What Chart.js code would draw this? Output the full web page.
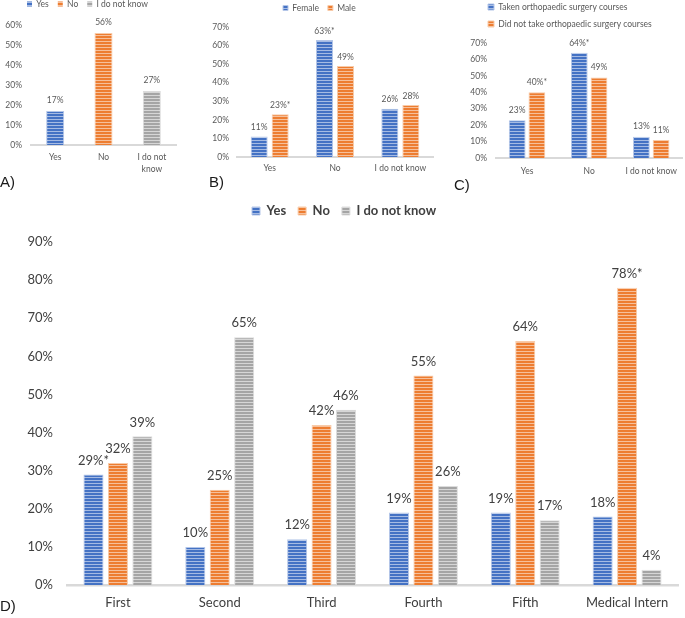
<!DOCTYPE html>
<html>
<head>
<meta charset="utf-8">
<script src="https://cdn.jsdelivr.net/npm/chart.js@4.4.1/dist/chart.umd.min.js"></script>
<style>
  body { margin: 0; background: #fff; }
  #wrap { position: relative; width: 685px; height: 618px; overflow: hidden; }
  canvas { position: absolute; }
  .tag { position: absolute; font-family: "Liberation Sans", Arial, sans-serif; font-size: 15px; line-height: 15px; color: #1a1a1a; }
</style>
</head>
<body>
<div id="wrap">
  <canvas id="chartA" width="180" height="180" style="left:0;top:0"></canvas>
  <canvas id="chartB" width="240" height="192" style="left:200px;top:0"></canvas>
  <canvas id="chartC" width="235" height="193" style="left:450px;top:0"></canvas>
  <canvas id="chartD" width="685" height="428" style="left:0;top:190px"></canvas>
  <div class="tag" style="left:0;top:174px">A)</div>
  <div class="tag" style="left:209px;top:174px">B)</div>
  <div class="tag" style="left:454px;top:177px">C)</div>
  <div class="tag" style="left:0;top:598px">D)</div>
</div>
<script>
// answers
const answers = ["Yes", "No", "I do not know"];
const answerTicksA = ["Yes", "No", ["I do not", "know"]];

// A) all students
const allValues = [17, 56, 27];
const allText = ["17%", "56%", "27%"];

// B) by gender
const femaleValues = [11, 63, 26];
const femaleText = ["11%", "63%*", "26%"];
const maleValues = [23, 49, 28];
const maleText = ["23%*", "49%", "28%"];

// C) by orthopaedic course
const takenValues = [23, 64, 13];
const takenText = ["23%", "64%*", "13%"];
const notTakenValues = [40, 49, 11];
const notTakenText = ["40%*", "49%", "11%"];

// D) by year
const years = ["First", "Second", "Third", "Fourth", "Fifth", "Medical Intern"];
const yesValues = [29, 10, 12, 19, 19, 18];
const yesText = ["29%*", "10%", "12%", "19%", "19%", "18%"];
const noValues = [32, 25, 42, 55, 64, 78];
const noText = ["32%", "25%", "42%", "55%", "64%", "78%*"];
const idkValues = [39, 65, 46, 26, 17, 4];
const idkText = ["39%", "65%", "46%", "26%", "17%", "4%"];

// striped fill like the office "horizontal lines" pattern
function stripes(color, light) {
    const c = document.createElement("canvas");
    c.width = 4;
    c.height = 3;
    const g = c.getContext("2d");
    g.fillStyle = color;
    g.fillRect(0, 0, 4, 2);
    g.fillStyle = light;
    g.fillRect(0, 2, 4, 1);
    return g.createPattern(c, "repeat");
}
const blue = stripes("#4472C4", "#a6bbe3");
const orange = stripes("#ED7D31", "#f6c09b");
const gray = stripes("#A5A5A5", "#d6d6d6");
const blueEdge = "#b4c6e8";
const orangeEdge = "#f8cba9";
const grayEdge = "#dcdcdc";

// value labels above bars
const barLabels = {
    id: "barLabels",
    afterDatasetsDraw(chart, args, opts) {
        const ctx = chart.ctx;
        ctx.save();
        ctx.font = opts.font;
        ctx.fillStyle = opts.color;
        ctx.textAlign = "center";
        ctx.textBaseline = "middle";
        chart.data.datasets.forEach((ds, i) => {
            chart.getDatasetMeta(i).data.forEach((bar, j) => {
                ctx.fillText(ds.texts[j], bar.x, bar.y - opts.offset);
            });
        });
        ctx.restore();
    },
};

// fixed legend height, then move the legend rows to where they sit in the figure
const legendPlace = {
    id: "legendPlace",
    beforeLayout(chart, args, opts) {
        const lg = chart.legend;
        if (!lg || lg._placed) return;
        const fit = lg.fit;
        lg.fit = function () {
            fit.call(this);
            this.height = opts.height;
        };
        lg._placed = true;
    },
    afterLayout(chart, args, opts) {
        const lg = chart.legend;
        const p = lg.options.labels.padding;
        const dx = opts.x - (lg.left + p);
        const dy = opts.y - (lg.top + p + opts.size / 2);
        lg.left += dx;
        lg.right += dx;
        lg.top += dy;
        lg.bottom += dy;
    },
};

function small(size) {
    return { family: "Lato", size: size };
}

function baseOptions(o) {
    return {
        responsive: false,
        animation: false,
        layout: { padding: o.padding },
        plugins: {
            tooltip: { enabled: false },
            legend: {
                position: "top",
                align: "start",
                labels: {
                    boxWidth: o.box,
                    boxHeight: o.box,
                    padding: o.legendPad,
                    color: o.legendColor || "#595959",
                    font: o.legendFont,
                    generateLabels: o.generateLabels,
                },
            },
            legendPlace: { x: o.legendX, y: o.legendY, height: o.top, size: o.legendFont.size },
            barLabels: { font: o.labelFont, color: o.labelColor || "#595959", offset: o.labelOffset },
        },
        scales: {
            x: {
                grid: { display: false, drawTicks: false },
                border: { display: true, color: "#d9d9d9", width: o.baseWidth || 2 },
                ticks: { color: o.tickColor || "#595959", font: o.catFont, padding: o.catPad, maxRotation: 0, autoSkip: false },
                afterFit: (s) => { s.height = o.xH; },
            },
            y: {
                min: 0,
                max: o.max,
                grid: { display: false, drawTicks: false },
                border: { display: false },
                ticks: { stepSize: 10, color: o.tickColor || "#595959", font: o.tickFont, padding: o.tickPad, callback: (v) => v + "%" },
                afterFit: (s) => { s.width = o.yW; },
            },
        },
    };
}

// A
const legendA = (chart) => answers.map((t, i) => ({
    text: t,
    fillStyle: [blue, orange, gray][i],
    strokeStyle: "rgba(0,0,0,0)",
    lineWidth: 0,
    fontColor: "#595959",
    hidden: false,
    index: i,
}));
new Chart(document.getElementById("chartA"), {
    type: "bar",
    data: {
        labels: answerTicksA,
        datasets: [{
            label: "All",
            data: allValues,
            texts: allText,
            backgroundColor: [blue, orange, gray],
            borderColor: [blueEdge, orangeEdge, grayEdge],
            borderWidth: 1,
            categoryPercentage: 1,
            barPercentage: 0.373,
        }],
    },
    options: baseOptions({
        padding: { top: 0, left: 0, right: 4, bottom: 0 },
        box: 5, legendPad: 9, legendFont: small(8.5), legendX: 27, legendY: 4, top: 25,
        generateLabels: legendA,
        labelFont: "8.5px Lato", labelOffset: 10.5,
        catFont: { family: "Lato", size: 8.5, lineHeight: 1.4 }, catPad: 6, xH: 35,
        max: 60, tickFont: small(8.5), tickPad: 9, yW: 31,
    }),
    plugins: [barLabels, legendPlace],
});

// B
new Chart(document.getElementById("chartB"), {
    type: "bar",
    data: {
        labels: answers,
        datasets: [
            { label: "Female", data: femaleValues, texts: femaleText, backgroundColor: blue, borderColor: blueEdge, borderWidth: 1, categoryPercentage: 0.643, barPercentage: 0.81 },
            { label: "Male", data: maleValues, texts: maleText, backgroundColor: orange, borderColor: orangeEdge, borderWidth: 1, categoryPercentage: 0.643, barPercentage: 0.81 },
        ],
    },
    options: baseOptions({
        padding: { top: 0, left: 0, right: 7, bottom: 0 },
        box: 5, legendPad: 9, legendFont: small(8.5), legendX: 83, legendY: 8, top: 27,
        labelFont: "8.5px Lato", labelOffset: 9,
        catFont: small(8.5), catPad: 6, xH: 35,
        max: 70, tickFont: small(8.5), tickPad: 8, yW: 37,
    }),
    plugins: [barLabels, legendPlace],
});

// C
new Chart(document.getElementById("chartC"), {
    type: "bar",
    data: {
        labels: answers,
        datasets: [
            { label: "Taken orthopaedic surgery courses", data: takenValues, texts: takenText, backgroundColor: blue, borderColor: blueEdge, borderWidth: 1, categoryPercentage: 0.635, barPercentage: 0.85 },
            { label: "Did not take orthopaedic surgery courses", data: notTakenValues, texts: notTakenText, backgroundColor: orange, borderColor: orangeEdge, borderWidth: 1, categoryPercentage: 0.635, barPercentage: 0.85 },
        ],
    },
    options: baseOptions({
        padding: { top: 0, left: 0, right: 0, bottom: 0 },
        box: 6, legendPad: 8.5, legendFont: small(8.5), legendX: 38, legendY: 7, top: 43,
        labelFont: "8.5px Lato", labelOffset: 10,
        catFont: small(8.5), catPad: 8, xH: 35,
        max: 70, tickFont: small(8.5), tickPad: 9, yW: 46,
    }),
    plugins: [barLabels, legendPlace],
});

// D
new Chart(document.getElementById("chartD"), {
    type: "bar",
    data: {
        labels: years,
        datasets: [
            { label: "Yes", data: yesValues, texts: yesText, backgroundColor: blue, borderColor: blueEdge, borderWidth: 1, categoryPercentage: 0.72, barPercentage: 0.82 },
            { label: "No", data: noValues, texts: noText, backgroundColor: orange, borderColor: orangeEdge, borderWidth: 1, categoryPercentage: 0.72, barPercentage: 0.82 },
            { label: "I do not know", data: idkValues, texts: idkText, backgroundColor: gray, borderColor: grayEdge, borderWidth: 1, categoryPercentage: 0.72, barPercentage: 0.82 },
        ],
    },
    options: baseOptions({
        padding: { top: 0, left: 0, right: 7, bottom: 0 },
        box: 8, legendPad: 12, legendFont: { family: "Lato", size: 13, weight: "bold" }, legendColor: "#404040",
        legendX: 252, legendY: 21, top: 52,
        labelFont: "13px Lato", labelColor: "#404040", labelOffset: 14,
        catFont: small(13), catPad: 10, xH: 33, tickColor: "#404040", baseWidth: 2.5,
        max: 90, tickFont: small(13), tickPad: 14, yW: 67,
    }),
    plugins: [barLabels, legendPlace],
});
</script>
</body>
</html>
